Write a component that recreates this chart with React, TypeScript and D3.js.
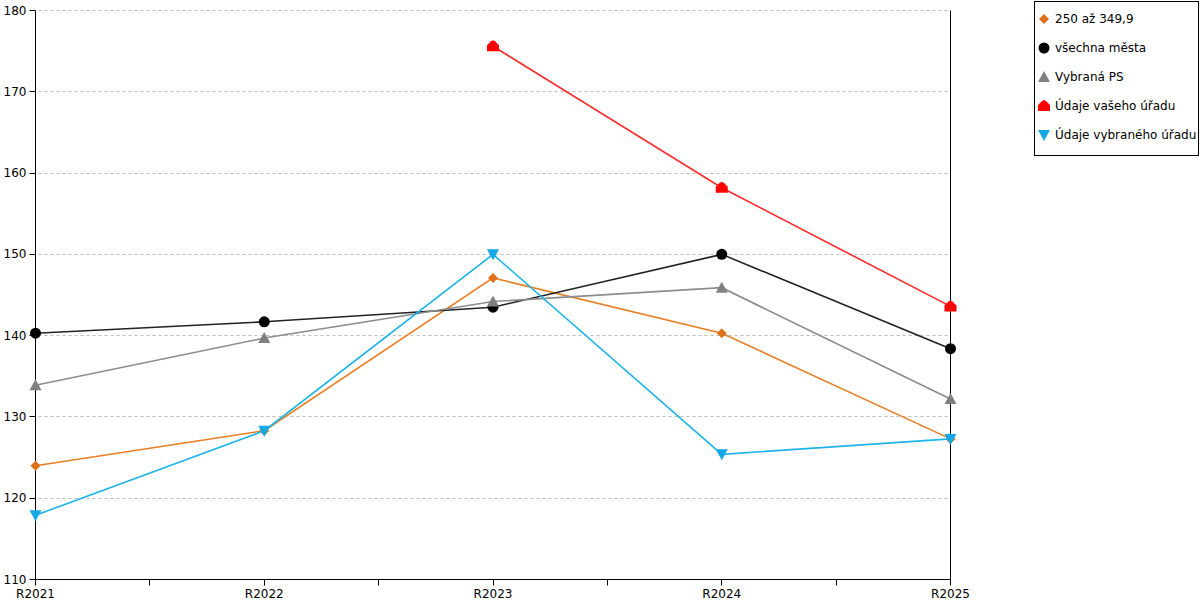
import React from "react";
import * as d3 from "d3";

const categories = ["R2021", "R2022", "R2023", "R2024", "R2025"];
const yTicks = [110, 120, 130, 140, 150, 160, 170, 180];

const seriesNames = ["250 až 349,9", "všechna města", "Vybraná PS", "Údaje vašeho úřadu", "Údaje vybraného úřadu"];
const orangeValues = [124.0, 128.3, 147.1, 140.3, 127.3];
const blackValues = [140.3, 141.7, 143.5, 150.0, 138.4];
const grayValues = [133.9, 139.7, 144.2, 145.9, 132.2];
const redValues: (number | null)[] = [null, null, 175.6, 158.2, 143.6];
const blueValues = [117.9, 128.3, 150.0, 125.4, 127.3];

const lineColors = ["#e87d22", "#222222", "#8c8c8c", "#ff2a2a", "#1cb4ea"];
const markerColors = ["#e0701a", "#000000", "#808080", "#ff0000", "#12a9e6"];
const markerKinds = ["diamond", "circle", "triangle", "house", "down"];

const W = 1200;
const H = 600;
const left = 35.5;
const right = 950.5;
const top = 10.5;
const bottom = 579.5;
const font = "DejaVu Sans, Verdana, sans-serif";

function Marker({ kind, x, y, color }: { kind: string; x: number; y: number; color: string }) {
  if (kind === "circle") return <circle cx={x} cy={y} r={5.5} fill={color} />;
  let d = "";
  if (kind === "diamond") d = "M0,-5L5,0L0,5L-5,0Z";
  if (kind === "triangle") d = "M0,-6L6,5L-6,5Z";
  if (kind === "down") d = "M-6,-5L6,-5L0,6Z";
  if (kind === "house") d = "M-6,5L6,5L6,-1L2,-5L0,-6L-2,-5L-6,-1Z";
  return <path d={d} transform={`translate(${x},${y})`} fill={color} />;
}

export default function App() {
  const x = d3.scalePoint<string>().domain(categories).range([left, right]);
  const y = d3.scaleLinear().domain([110, 180]).range([bottom, top]);
  const allSeries = [orangeValues, blackValues, grayValues, redValues, blueValues];

  const step = x.step();
  const xTickPos: number[] = [];
  categories.forEach((c, i) => {
    const p = Math.round((x(c) as number) - 0.5) + 0.5;
    xTickPos.push(p);
    if (i < categories.length - 1) xTickPos.push(Math.round((x(c) as number) + step / 2 - 0.5) + 0.5);
  });

  const line = d3
    .line<number | null>()
    .defined((d) => d != null)
    .x((_, i) => x(categories[i]) as number)
    .y((d) => y(d as number));

  const crisp = (v: number) => Math.round(v - 0.5) + 0.5;

  return (
    <div>
      <style>{`body{margin:0}`}</style>
      <svg width={W} height={H} style={{ display: "block", fontFamily: font }}>
        <rect width={W} height={H} fill="#fff" />
        {yTicks.map((t) => (
          <g key={t}>
            {t > 110 && (
              <line x1={left + 3} x2={right} y1={crisp(y(t))} y2={crisp(y(t))} stroke="#bdbdbd" strokeDasharray="3,3" />
            )}
            <line x1={left - 6} x2={left} y1={crisp(y(t))} y2={crisp(y(t))} stroke="#000" />
            <text x={left - 9} y={y(t) + 4} textAnchor="end" fontSize={12} fill="#000">
              {t}
            </text>
          </g>
        ))}
        <line x1={left} x2={left} y1={top} y2={bottom} stroke="#000" />
        <line x1={right} x2={right} y1={top} y2={bottom} stroke="#000" />
        <line x1={left} x2={right} y1={bottom} y2={bottom} stroke="#000" />
        {xTickPos.map((p, i) => (
          <line key={i} x1={p} x2={p} y1={bottom} y2={bottom + 6} stroke="#000" />
        ))}
        {categories.map((c) => (
          <text key={c} x={x(c)} y={598} textAnchor="middle" fontSize={12} fill="#000">
            {c}
          </text>
        ))}
        {allSeries.map((vals, si) => (
          <g key={si}>
            <path d={line(vals) || ""} fill="none" stroke={lineColors[si]} strokeWidth={1.6} />
            {vals.map((v, i) =>
              v == null ? null : (
                <Marker key={i} kind={markerKinds[si]} x={x(categories[i]) as number} y={y(v)} color={markerColors[si]} />
              )
            )}
          </g>
        ))}
        <rect x={1034.5} y={1.5} width={164} height={154} fill="#fff" stroke="#000" />
        {seriesNames.map((n, i) => (
          <g key={n}>
            <Marker kind={markerKinds[i]} x={1044} y={19 + i * 29} color={markerColors[i]} />
            <text x={1055} y={19 + i * 29 + 4} fontSize={12} fill="#000">
              {n}
            </text>
          </g>
        ))}
      </svg>
    </div>
  );
}
